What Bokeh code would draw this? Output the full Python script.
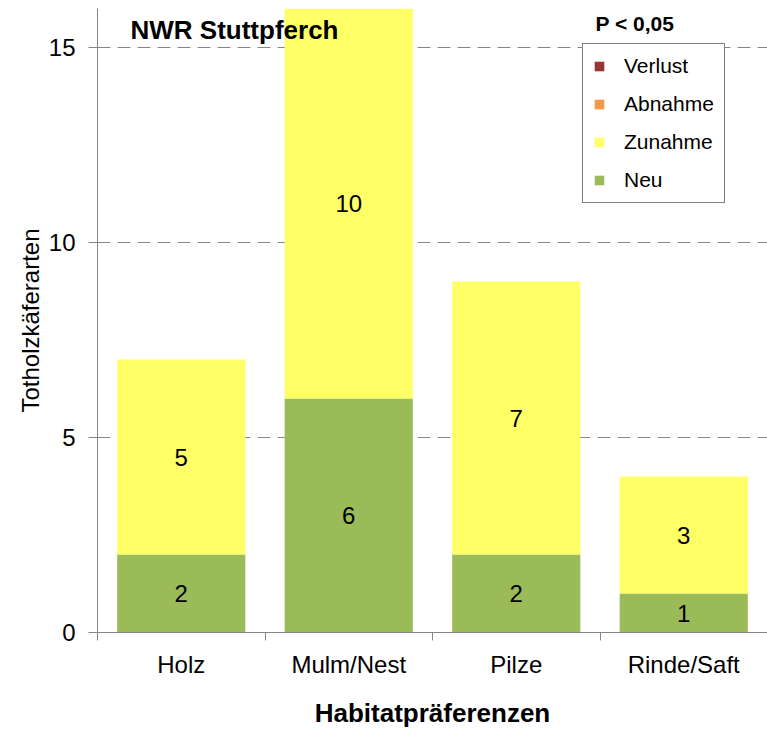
from bokeh.plotting import figure
from bokeh.models import (ColumnDataSource, Range1d, FixedTicker, Legend, LegendItem,
                          Label, LabelSet)
from bokeh.core.properties import value
from bokeh.embed import file_html
from bokeh.resources import INLINE

categories = ["Holz", "Mulm/Nest", "Pilze", "Rinde/Saft"]
neu = [2, 6, 2, 1]
zunahme = [5, 10, 7, 3]
abnahme = [0, 0, 0, 0]
verlust = [0, 0, 0, 0]
y_ticks = [0, 5, 10, 15]

series_names = ["Neu", "Zunahme", "Abnahme", "Verlust"]
series_colors = ["#9BBB59", "#FFFF66", "#F79646", "#953735"]

FONT = "Liberation Sans"
x = [i + 0.5 for i in range(len(categories))]
src = ColumnDataSource(dict(x=x, Neu=neu, Zunahme=zunahme, Abnahme=abnahme, Verlust=verlust))

# label positions (segment centres) derived from data
lab_x, lab_y, lab_t = [], [], []
for i in range(len(categories)):
    base = 0
    for vals in (neu, zunahme, abnahme, verlust):
        v = vals[i]
        if v > 0:
            lab_x.append(x[i]); lab_y.append(base + v / 2); lab_t.append(str(v))
        base += v
lab_src = ColumnDataSource(dict(x=lab_x, y=lab_y, t=lab_t))

p = figure(width=767, height=730, output_backend="svg", toolbar_location=None,
           x_range=Range1d(0, len(categories)), y_range=Range1d(0, 16),
           min_border_left=97, min_border_right=0, min_border_top=8, min_border_bottom=98)
p.outline_line_color = None
p.background_fill_color = "white"

rs = p.vbar_stack(series_names, x="x", width=0.765, color=series_colors,
                  line_color=None, source=src)

p.add_layout(LabelSet(x="x", y="y", text="t", source=lab_src, text_align="center",
                      text_baseline="middle", text_font=value(FONT), text_font_size="24px",
                      text_color="black"))

# axes
axis_color = "#868686"
p.xgrid.visible = False
p.ygrid.ticker = FixedTicker(ticks=[5, 10, 15])
p.ygrid.grid_line_color = axis_color
p.ygrid.grid_line_dash = "13 7"
p.ygrid.grid_line_width = 1

p.yaxis.ticker = FixedTicker(ticks=y_ticks)
p.yaxis.axis_line_color = axis_color
p.yaxis.major_tick_line_color = axis_color
p.yaxis.major_tick_out = 9
p.yaxis.major_tick_in = 0
p.yaxis.minor_tick_line_color = None
p.yaxis.major_label_text_font = FONT
p.yaxis.major_label_text_font_size = "24px"
p.yaxis.major_label_text_color = "black"
p.yaxis.major_label_standoff = 13
p.yaxis.axis_label = "Totholzkäferarten"
p.yaxis.axis_label_text_font = FONT
p.yaxis.axis_label_text_font_size = "24px"
p.yaxis.axis_label_text_font_style = "normal"
p.yaxis.axis_label_text_color = "black"
p.yaxis.axis_label_standoff = 2

p.xaxis.ticker = FixedTicker(ticks=x, minor_ticks=list(range(len(categories) + 1)))
p.xaxis.major_label_overrides = {xi: c for xi, c in zip(x, categories)}
p.xaxis.axis_line_color = axis_color
p.xaxis.major_tick_line_color = None
p.xaxis.major_tick_out = 0
p.xaxis.major_tick_in = 0
p.xaxis.minor_tick_line_color = axis_color
p.xaxis.minor_tick_out = 8
p.xaxis.minor_tick_in = 0
p.xaxis.major_label_text_font = FONT
p.xaxis.major_label_text_font_size = "24px"
p.xaxis.major_label_text_color = "black"
p.xaxis.major_label_standoff = 10
p.xaxis.axis_label = "Habitatpräferenzen"
p.xaxis.axis_label_text_font = FONT
p.xaxis.axis_label_text_font_size = "26px"
p.xaxis.axis_label_text_font_style = "bold"
p.xaxis.axis_label_text_color = "black"
p.xaxis.axis_label_standoff = 17

# legend (top-to-bottom: Verlust, Abnahme, Zunahme, Neu)
items = [LegendItem(label=n, renderers=[r]) for n, r in zip(series_names, rs)][::-1]
legend = Legend(items=items, location=(485, 429), orientation="vertical",
                border_line_color="black", border_line_width=1,
                background_fill_color="white", background_fill_alpha=1,
                label_text_font=FONT, label_text_font_size="21px",
                label_text_color="black", glyph_width=12, glyph_height=12,
                label_standoff=19, spacing=14, padding=10, margin=0,
                label_height=24)
p.add_layout(legend)

p.add_layout(Label(x=33, y=603, x_units="screen", y_units="screen",
                   text="NWR Stuttpferch", text_font=FONT, text_font_size="26px",
                   text_font_style="bold", text_baseline="middle", text_color="black"))
p.add_layout(Label(x=498, y=609, x_units="screen", y_units="screen",
                   text="P < 0,05", text_font=FONT, text_font_size="21px",
                   text_font_style="bold", text_baseline="middle", text_color="black"))

open("out.html", "w").write(file_html(p, INLINE))
